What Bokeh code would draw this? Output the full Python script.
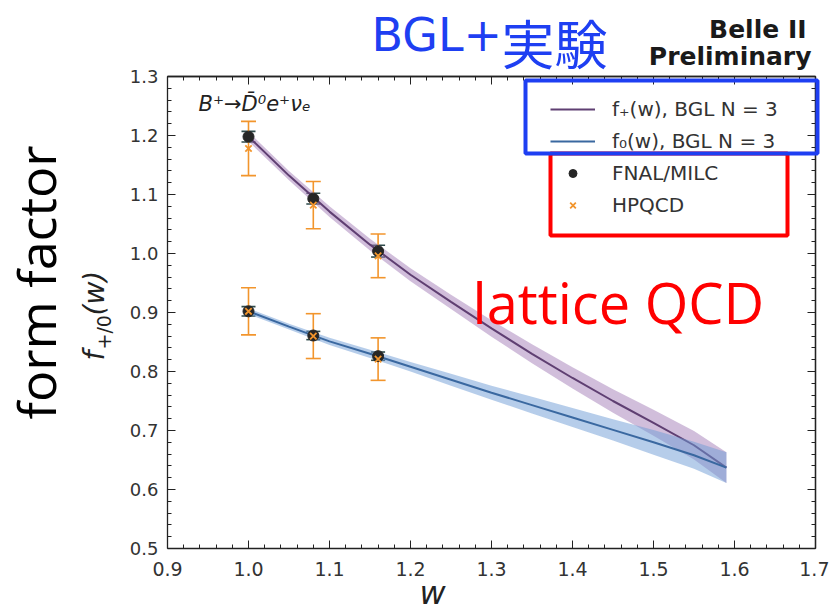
import math
from bokeh.plotting import figure
from bokeh.models import (ColumnDataSource, Whisker, TeeHead, Label, Legend, LegendItem,
                          LinearAxis, FixedTicker, NumeralTickFormatter, BoxAnnotation, Range1d)
from bokeh.embed import file_html
from bokeh.resources import INLINE

# ---------------- data ----------------
w_lat = [1.00, 1.08, 1.16]
fnal_fplus = [1.198, 1.093, 1.004]
fnal_fplus_err = [0.009, 0.009, 0.010]
fnal_fzero = [0.902, 0.861, 0.826]
fnal_fzero_err = [0.008, 0.007, 0.007]
hpqcd_fplus = [1.178, 1.082, 0.996]
hpqcd_fplus_err = [0.046, 0.040, 0.037]
hpqcd_fzero = [0.902, 0.860, 0.821]
hpqcd_fzero_err = [0.040, 0.038, 0.036]

w_fit = [1.00, 1.05, 1.10, 1.15, 1.20, 1.25, 1.30, 1.35, 1.40, 1.45, 1.50, 1.55, 1.59]
fplus_fit = [1.198, 1.132, 1.071, 1.015, 0.964, 0.918, 0.873, 0.830, 0.789, 0.750, 0.713, 0.675, 0.637]
fplus_unc = [0.008, 0.008, 0.009, 0.010, 0.011, 0.012, 0.014, 0.016, 0.018, 0.020, 0.022, 0.024, 0.026]
fzero_fit = [0.902, 0.876, 0.851, 0.830, 0.808, 0.786, 0.764, 0.743, 0.722, 0.701, 0.680, 0.658, 0.637]
fzero_unc = [0.005, 0.005, 0.006, 0.007, 0.008, 0.010, 0.012, 0.014, 0.016, 0.018, 0.021, 0.023, 0.026]

x_ticks = [0.9, 1.0, 1.1, 1.2, 1.3, 1.4, 1.5, 1.6, 1.7]
y_ticks = [0.5, 0.6, 0.7, 0.8, 0.9, 1.0, 1.1, 1.2, 1.3]

# ---------------- styles / layout ----------------
PURPLE = "#5f3f72"
PURPLE_BAND = "#a47db8"
BLUE = "#3a68a0"
BLUE_BAND = "#6d9bd6"
DARK = "#262626"
DARK_BAR = "#2f4a4a"
ORANGE = "#f2952c"
ANN_BLUE = "#1e3ff2"
ANN_RED = "#ff0000"
AXIS_COLOR = "#222222"

W, H = 829, 612
# pixel box of the axes area inside the page
PX_L, PX_R, PX_T, PX_B = 167, 815, 76, 548
X0, X1 = x_ticks[0], x_ticks[-1]
Y0, Y1 = y_ticks[0], y_ticks[-1]
sx = (PX_R - PX_L) / (X1 - X0)
sy = (PX_B - PX_T) / (Y1 - Y0)
x_range = Range1d(X0 - PX_L / sx, X1 + (W - PX_R) / sx)
y_range = Range1d(Y0 - (H - PX_B) / sy, Y1 + PX_T / sy)

p = figure(width=W, height=H, min_border=0, x_range=x_range, y_range=y_range,
           output_backend="svg", toolbar_location=None,
           background_fill_color="white", border_fill_color="white")
p.xgrid.visible = False
p.ygrid.visible = False
p.outline_line_color = None


def minor(ticks):
    out = []
    for a, b in zip(ticks[:-1], ticks[1:]):
        for k in range(1, 5):
            out.append(round(a + (b - a) * k / 5, 4))
    return out


def style_axis(ax):
    ax.major_tick_in = 8
    ax.major_tick_out = 0
    ax.minor_tick_in = 4
    ax.minor_tick_out = 0
    ax.major_tick_line_color = AXIS_COLOR
    ax.minor_tick_line_color = AXIS_COLOR
    ax.axis_line_color = AXIS_COLOR
    ax.axis_line_width = 1.3


# labelled bottom / left axes
bx = p.below[0]
bx.ticker = FixedTicker(ticks=x_ticks, minor_ticks=minor(x_ticks))
bx.bounds = (X0, X1)
bx.fixed_location = Y0
ly = p.left[0]
ly.ticker = FixedTicker(ticks=y_ticks, minor_ticks=minor(y_ticks))
ly.bounds = (Y0, Y1)
ly.fixed_location = X0
for ax in (bx, ly):
    style_axis(ax)
    ax.formatter = NumeralTickFormatter(format="0.0")
    ax.major_label_text_font = "DejaVu Sans"
    ax.major_label_text_color = "#333333"
ly.major_label_text_font_size = "18px"
ly.major_label_standoff = 9
bx.major_label_text_font_size = "19px"
bx.major_label_standoff = 13

# mirrored top / right axes: tick marks only (no labels)
for side, ticks, loc, bounds in (("above", x_ticks, Y1, (X0, X1)),
                                 ("right", y_ticks, X1, (Y0, Y1))):
    long_ax = LinearAxis(ticker=FixedTicker(ticks=[], minor_ticks=ticks),
                         fixed_location=loc, bounds=bounds)
    short_ax = LinearAxis(ticker=FixedTicker(ticks=[], minor_ticks=minor(ticks)),
                          fixed_location=loc, bounds=bounds)
    style_axis(long_ax)
    style_axis(short_ax)
    long_ax.minor_tick_in = 8
    p.add_layout(short_ax, side)
    p.add_layout(long_ax, side)

# ---------------- fit bands and lines ----------------
p.varea(x=w_fit, y1=[v - e for v, e in zip(fplus_fit, fplus_unc)],
        y2=[v + e for v, e in zip(fplus_fit, fplus_unc)],
        fill_color=PURPLE_BAND, fill_alpha=0.5)
r_fp = p.line(w_fit, fplus_fit, line_color=PURPLE, line_width=2)
p.varea(x=w_fit, y1=[v - e for v, e in zip(fzero_fit, fzero_unc)],
        y2=[v + e for v, e in zip(fzero_fit, fzero_unc)],
        fill_color=BLUE_BAND, fill_alpha=0.5)
r_f0 = p.line(w_fit, fzero_fit, line_color=BLUE, line_width=2)


# ---------------- lattice points ----------------
def add_errorbars(vals, errs, color, size):
    src = ColumnDataSource(dict(w=w_lat,
                                up=[v + e for v, e in zip(vals, errs)],
                                lo=[v - e for v, e in zip(vals, errs)]))
    p.add_layout(Whisker(source=src, base="w", upper="up", lower="lo", dimension="height",
                         line_color=color, line_width=1.6,
                         upper_head=TeeHead(size=size, line_color=color, line_width=1.6),
                         lower_head=TeeHead(size=size, line_color=color, line_width=1.6)))


add_errorbars(fnal_fplus, fnal_fplus_err, DARK_BAR, 14)
add_errorbars(fnal_fzero, fnal_fzero_err, DARK_BAR, 14)
r_fnal = p.scatter(w_lat, fnal_fplus, marker="circle", size=11, fill_color=DARK, line_color=DARK)
p.scatter(w_lat, fnal_fzero, marker="circle", size=11, fill_color=DARK, line_color=DARK)

add_errorbars(hpqcd_fplus, hpqcd_fplus_err, ORANGE, 15)
add_errorbars(hpqcd_fzero, hpqcd_fzero_err, ORANGE, 15)
r_hp = p.scatter(w_lat, hpqcd_fplus, marker="x", size=9, line_color=ORANGE, line_width=1.8)
p.scatter(w_lat, hpqcd_fzero, marker="x", size=9, line_color=ORANGE, line_width=1.8)

legend = Legend(items=[
    LegendItem(label="f₊(w), BGL N = 3", renderers=[r_fp]),
    LegendItem(label="f₀(w), BGL N = 3", renderers=[r_f0]),
    LegendItem(label="FNAL/MILC", renderers=[r_fnal]),
    LegendItem(label="HPQCD", renderers=[r_hp]),
], location=(550, 395), orientation="vertical",
    border_line_color=None, background_fill_alpha=0, padding=0, margin=0,
    spacing=8, glyph_width=45, glyph_height=20, label_height=22, label_standoff=17,
    label_text_font="DejaVu Sans", label_text_font_size="20px", label_text_color="#333333")
p.add_layout(legend)

# ---------------- texts (page pixel positions of the baselines) ----------------
K = 0.39  # baseline correction factor


def lab(text, x, y, size, color="#000000", font="DejaVu Sans", style="normal",
        align="left", angle=0.0):
    if angle == 0.0:
        ax_, ay_ = x, y - K * size
    else:
        ax_, ay_ = x - K * size, y
    p.add_layout(Label(x=ax_, y=H - ay_, x_units="screen", y_units="screen", text=text,
                       text_font=font, text_font_size=f"{size}px", text_color=color,
                       text_font_style=style, text_align=align, text_baseline="alphabetic",
                       angle=angle))


lab("B⁺→D̄⁰e⁺νₑ", 198, 112, 21, color="#222222", style="italic")
lab("BGL+", 371, 52, 46, color=ANN_BLUE)
lab("実験", 501, 62, 53, color=ANN_BLUE, font="Noto Sans CJK JP")
lab("Belle II", 806, 39, 25, color="#1a1a1a", style="bold", align="right")
lab("Preliminary", 811, 66, 25, color="#1a1a1a", style="bold", align="right")
lab("lattice QCD", 472, 323, 56, color=ANN_RED, font="Open Sans")
lab("form factor", 55, 282, 52, font="Open Sans", align="center", angle=math.pi / 2)
lab("f", 105, 360, 28, color="#222222", style="italic", angle=math.pi / 2)
lab("+/0", 111, 349, 19, color="#222222", angle=math.pi / 2)
lab("(w)", 105, 315, 28, color="#222222", style="italic", angle=math.pi / 2)
lab("w", 432, 605, 32, color="#222222", style="italic", align="center")

p.add_layout(BoxAnnotation(left=550, right=787, top=H - 153, bottom=H - 235,
                           left_units="screen", right_units="screen",
                           top_units="screen", bottom_units="screen",
                           fill_color=None, fill_alpha=0, line_color=ANN_RED,
                           line_alpha=1.0, line_width=4))
p.add_layout(BoxAnnotation(left=525, right=817, top=H - 80, bottom=H - 153,
                           left_units="screen", right_units="screen",
                           top_units="screen", bottom_units="screen",
                           fill_color=None, fill_alpha=0, line_color=ANN_BLUE,
                           line_alpha=1.0, line_width=4))

open("out.html", "w").write(file_html(p, INLINE))
